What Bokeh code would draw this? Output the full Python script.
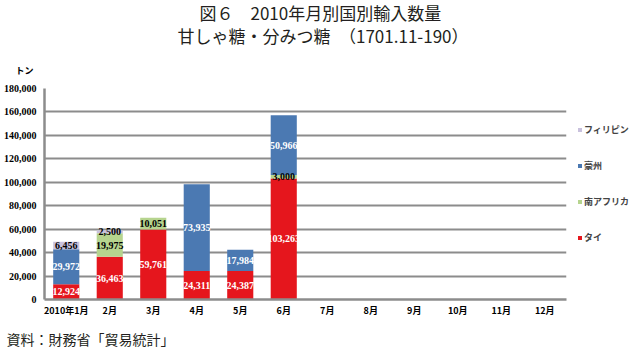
from bokeh.plotting import figure
from bokeh.models import ColumnDataSource, Legend, LegendItem, NumeralTickFormatter, FactorRange, Range1d, FixedTicker, Title
from bokeh.core.properties import value
from bokeh.embed import file_html
from bokeh.resources import INLINE

months = ["2010年1月", "2月", "3月", "4月", "5月", "6月", "7月", "8月", "9月", "10月", "11月", "12月"]
thai = [12924, 36463, 59761, 24311, 24387, 103263, 0, 0, 0, 0, 0, 0]
south_africa = [0, 19975, 10051, 0, 0, 3000, 0, 0, 0, 0, 0, 0]
australia = [29972, 0, 0, 73935, 17984, 50966, 0, 0, 0, 0, 0, 0]
philippines = [6456, 2500, 0, 0, 0, 0, 0, 0, 0, 0, 0, 0]
series_keys = ["thai", "sa", "au", "ph"]
series_names = ["タイ", "南アフリカ", "豪州", "フィリピン"]
colors = ["#E5161D", "#B6D48E", "#4B79B2", "#C9C1DD"]
label_colors = ["white", "black", "white", "black"]
y_ticks = [0, 20000, 40000, 60000, 80000, 100000, 120000, 140000, 160000, 180000]

JP = "Noto Sans CJK JP"
NARROW = "Liberation Sans Narrow"

data = dict(month=months, thai=thai, sa=south_africa, au=australia, ph=philippines)
src = ColumnDataSource(data)

p = figure(x_range=FactorRange(*months, range_padding=0), y_range=Range1d(0, 180000),
           frame_width=522, frame_height=211, output_backend="svg", toolbar_location=None,
           min_border_left=43, min_border_right=68, min_border_top=88, min_border_bottom=55)
p.outline_line_color = None
p.background_fill_color = "white"
p.title.visible = False

renderers = p.vbar_stack(series_keys, x="month", width=0.6, source=src, color=colors, line_color=None)

# data labels
lx, ly, lt, lc = [], [], [], []
series_vals = [thai, south_africa, australia, philippines]
for i, m in enumerate(months):
    base = 0
    for s, vals in enumerate(series_vals):
        v = vals[i]
        if v > 0:
            lx.append(m)
            ly.append(base + v / 2)
            lt.append(f"{v:,}")
            lc.append(label_colors[s])
        base += v
lsrc = ColumnDataSource(dict(x=lx, y=ly, t=lt, c=lc))
p.text(x="x", y="y", text="t", source=lsrc, text_color="c", text_align="center",
       text_baseline="middle", text_font_size="10px", text_font=value(NARROW),
       text_font_style="bold")

# axes
p.yaxis.ticker = FixedTicker(ticks=y_ticks)
p.yaxis.formatter = NumeralTickFormatter(format="0,0")
for ax in (p.xaxis, p.yaxis):
    ax.axis_line_color = "#8c8c8c"
    ax.axis_line_width = 2.5
    ax.major_tick_line_color = None
    ax.minor_tick_line_color = None
    ax.major_tick_out = 0
    ax.major_tick_in = 0
    ax.minor_tick_out = 0
    ax.major_label_text_font_style = "bold"
    ax.major_label_text_color = "black"
p.xaxis.major_label_text_font = JP
p.xaxis.major_label_text_font_size = "9px"
p.yaxis.major_label_text_font = NARROW
p.yaxis.major_label_text_font_size = "10px"
p.xaxis.major_label_standoff = 4
p.yaxis.major_label_standoff = 8
p.xgrid.grid_line_color = None
p.ygrid.grid_line_color = "#8c8c8c"
p.ygrid.grid_line_width = 2

# legend
items = [LegendItem(label=series_names[i], renderers=[renderers[i]]) for i in [3, 2, 1, 0]]
legend = Legend(items=items, location=(11, 55), orientation="vertical",
                glyph_width=5, glyph_height=5, label_height=10, spacing=23,
                label_text_font=JP, label_text_font_size="9px", label_text_font_style="bold",
                label_standoff=2, padding=0, margin=0, border_line_color=None,
                background_fill_alpha=0)
p.add_layout(legend, "right")

# titles (first added = nearest the frame)
p.add_layout(Title(text="トン", align="left", offset=-29, standoff=24, text_font=JP,
                   text_font_size="9px", text_font_style="bold", text_color="black"), "above")
p.add_layout(Title(text="甘しゃ糖・分みつ糖　（1701.11-190）", align="left",
                   offset=133, standoff=3, text_font=JP,
                   text_font_size="17px", text_font_style="normal", text_color="#231f20"), "above")
p.add_layout(Title(text="図６　2010年月別国別輸入数量", align="left",
                   offset=155, standoff=-10, text_font=JP,
                   text_font_size="17px", text_font_style="normal", text_color="#231f20"), "above")
p.add_layout(Title(text="資料：財務省「貿易統計」", align="left", offset=-38, standoff=14, text_font=JP,
                   text_font_size="14px", text_font_style="normal", text_color="#231f20"), "below")

open("out.html", "w").write(file_html(p, INLINE))
